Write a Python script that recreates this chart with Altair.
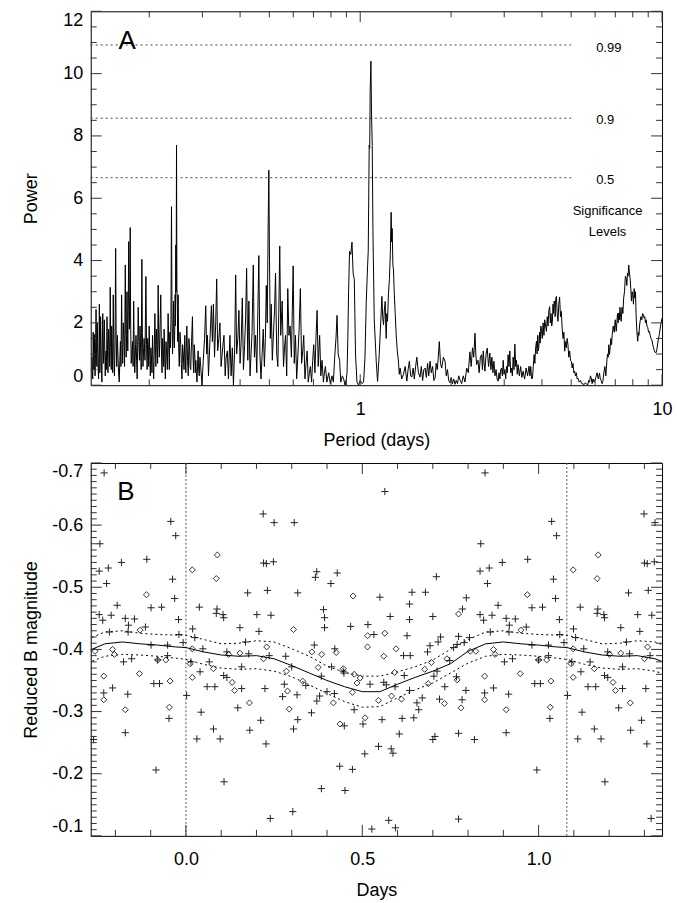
import altair as alt
import pandas as pd

FONT = "Liberation Sans"
W, HA, HB = 573, 375, 374

# ---------------- Panel A: periodogram in three stretches ----------------
period_short = [
    0.1292, 0.1296, 0.1300, 0.1304, 0.1308, 0.1312, 0.1316, 0.1320, 0.1323, 0.1328,
    0.1333, 0.1337, 0.1341, 0.1345, 0.1349, 0.1354, 0.1359, 0.1363, 0.1367, 0.1372,
    0.1376, 0.1380, 0.1384, 0.1389, 0.1394, 0.1398, 0.1403, 0.1407, 0.1411, 0.1416,
    0.1420, 0.1425, 0.1430, 0.1434, 0.1439, 0.1444, 0.1449, 0.1455, 0.1460, 0.1466,
    0.1473, 0.1479, 0.1485, 0.1491, 0.1497, 0.1502, 0.1508, 0.1514, 0.1520, 0.1527,
    0.1534, 0.1541, 0.1548, 0.1554, 0.1561, 0.1568, 0.1575, 0.1583, 0.1591, 0.1598,
    0.1605, 0.1612, 0.1620, 0.1626, 0.1633, 0.1641, 0.1649, 0.1657, 0.1666, 0.1672,
    0.1678, 0.1683, 0.1688, 0.1693, 0.1698, 0.1704, 0.1710, 0.1715, 0.1720, 0.1725,
    0.1730, 0.1736, 0.1743, 0.1751, 0.1760, 0.1768, 0.1776, 0.1783, 0.1791, 0.1800,
    0.1808, 0.1816, 0.1824, 0.1831, 0.1839, 0.1847, 0.1856, 0.1864, 0.1872, 0.1881,
    0.1891, 0.1898, 0.1906, 0.1914, 0.1923, 0.1936, 0.1950, 0.1959, 0.1968, 0.1976,
    0.1984, 0.1991, 0.1999, 0.2008, 0.2017, 0.2025, 0.2034, 0.2042, 0.2051, 0.2060,
    0.2069, 0.2078, 0.2088, 0.2096, 0.2104, 0.2113, 0.2123, 0.2132, 0.2141, 0.2150,
    0.2160, 0.2172, 0.2184, 0.2194, 0.2205, 0.2214, 0.2224, 0.2232, 0.2241, 0.2251,
    0.2262, 0.2273, 0.2284, 0.2297, 0.2310, 0.2320, 0.2331, 0.2340, 0.2350, 0.2360,
    0.2370, 0.2380, 0.2389, 0.2398, 0.2407, 0.2414, 0.2422, 0.2430, 0.2437, 0.2443,
    0.2450, 0.2456, 0.2463, 0.2470, 0.2478, 0.2485, 0.2493, 0.2504, 0.2515, 0.2529,
    0.2543, 0.2555, 0.2567, 0.2580, 0.2593, 0.2608, 0.2623, 0.2633, 0.2644, 0.2654,
    0.2664, 0.2679, 0.2694, 0.2707, 0.2720, 0.2732, 0.2744, 0.2762, 0.2781, 0.2793,
    0.2805, 0.2818, 0.2831, 0.2842, 0.2853, 0.2866, 0.2879, 0.2891, 0.2903, 0.2916,
    0.2929, 0.2945,
]
power_short = [
    0.9, 0.4, 0.2, 1.7, 1.2, 0.5, 1.63, 0.9, 0.3, 1.1,
    2.43, 1.2, 0.6, 2.0, 1.4, 0.6, 0.2, 1.0, 2.6, 0.4,
    0.9, 2.2, 1.5, 0.5, 0.1, 1.2, 2.3, 1.3, 0.7, 1.6,
    2.1, 1.0, 0.3, 0.8, 1.1, 0.5, 2.2, 1.0, 0.4, 1.8,
    1.3, 0.6, 3.14, 1.2, 0.5, 1.9, 1.2, 0.4, 2.9, 1.1,
    0.3, 1.4, 4.39, 1.5, 0.6, 1.6, 1.0, 0.4, 0.1, 0.8,
    1.4, 0.6, 2.9, 1.4, 0.7, 2.0, 1.5, 0.6, 3.86, 1.8,
    0.9, 1.6, 3.0, 1.9, 1.1, 2.4, 4.61, 2.5, 1.8, 3.0,
    5.06, 1.9, 0.7, 1.0, 1.4, 0.6, 2.7, 1.3, 0.4, 1.1,
    1.6, 0.8, 0.2, 1.3, 2.5, 1.4, 0.8, 1.9, 1.2, 0.5,
    4.04, 1.7, 0.6, 1.0, 1.5, 0.8, 3.49, 1.3, 0.5, 1.5,
    1.2, 0.6, 1.9, 1.0, 0.3, 1.2, 0.9, 0.4, 1.6, 0.8,
    0.2, 1.1, 2.3, 1.3, 0.6, 1.8, 1.3, 0.7, 3.21, 1.5,
    0.9, 1.9, 2.9, 1.2, 0.4, 1.5, 1.1, 0.6, 1.8, 0.9,
    0.2, 1.4, 1.0, 0.5, 2.3, 1.3, 0.5, 1.7, 1.2, 2.0,
    5.73, 2.1, 1.0, 1.7, 2.7, 1.6, 1.2, 1.8, 2.9, 1.9,
    4.5, 3.0, 7.71, 3.1, 2.6, 1.4, 2.9, 1.2, 0.6, 1.7,
    1.3, 0.7, 0.2, 1.3, 1.0, 0.5, 1.6, 0.9, 0.4, 1.2,
    1.9, 0.8, 0.3, 1.5, 1.2, 0.6, 0.5, 1.4, 2.2, 1.0,
    0.4, 1.3, 1.0, 0.4, 0.8, 0.4, 0.1, 0.6, 1.1, 0.5,
    0.3, 0.9,
]
period_mid = [
    0.2961, 0.2991, 0.3020, 0.3050, 0.3078, 0.3101, 0.3118, 0.3143, 0.3171,
    0.3213, 0.3238, 0.3263, 0.3291, 0.3321, 0.3346, 0.3371, 0.3402, 0.3429, 0.3461,
    0.3502, 0.3537, 0.3570, 0.3597, 0.3630, 0.3660, 0.3701, 0.3735, 0.3770, 0.3802,
    0.3838, 0.3867, 0.3896, 0.3932, 0.3964, 0.3999, 0.4033, 0.4068, 0.4103, 0.4141,
    0.4173, 0.4204, 0.4242, 0.4277, 0.4315, 0.4348, 0.4382, 0.4423, 0.4461, 0.4502,
    0.4543, 0.4581, 0.4615, 0.4652, 0.4692, 0.4732, 0.4773, 0.4814, 0.4851, 0.4884,
    0.4921, 0.4951, 0.4980, 0.5006, 0.5036, 0.5071, 0.5115, 0.5162, 0.5202, 0.5242,
    0.5290, 0.5334, 0.5373, 0.5413, 0.5454, 0.5514, 0.5570, 0.5613, 0.5656, 0.5708,
    0.5755, 0.5806, 0.5858, 0.5917, 0.5996, 0.6047, 0.6103, 0.6159, 0.6219, 0.6275,
    0.6335, 0.6395, 0.6450, 0.6500, 0.6560, 0.6616, 0.6671, 0.6726, 0.6786, 0.6836,
    0.6901, 0.6960, 0.7015, 0.7079, 0.7134, 0.7198, 0.7258, 0.7339, 0.7406, 0.7476,
    0.7552, 0.7610, 0.7669, 0.7756, 0.7861, 0.7960, 0.8067, 0.8149, 0.8243, 0.8312,
    0.8381, 0.8451, 0.8545, 0.8623, 0.8725, 0.8813, 0.8908, 0.8996, 0.9044, 0.9098,
    0.9152, 0.9220, 0.9304, 0.9392, 0.9472, 0.9560, 0.9648, 0.9758, 0.9875, 1.0000,
    1.0134, 1.0261, 1.0371, 1.0474, 1.0577, 1.0632, 1.0711, 1.0751, 1.0790, 1.0850,
    1.0901, 1.0961, 1.1020, 1.1131, 1.1302, 1.1413,
]
power_mid = [
    0.6, 0.0, 0.8, 1.5, 2.55, 1.0, 1.6, 0.3, 1.2,
    2.55, 1.4, 2.6, 0.9, 2.0, 3.41, 1.1, 1.5, 2.0, 0.6,
    1.2, 1.6, 0.3, 0.9, 1.1, 0.2, 1.6, 0.3, 1.2, 0.0,
    1.2, 3.54, 1.0, 1.5, 2.4, 0.7, 1.4, 2.8, 0.5, 1.3,
    2.2, 3.75, 0.8, 2.7, 0.3, 1.0, 1.7, 3.86, 0.9, 1.6,
    0.4, 2.4, 4.16, 1.0, 0.2, 1.0, 1.8, 0.6, 1.5, 3.2,
    2.0, 4.8, 6.9, 4.0, 1.5, 2.6, 0.8, 1.7, 2.4, 3.6,
    1.0, 0.6, 2.3, 4.47, 1.6, 2.7, 0.6, 1.2, 1.6, 0.3,
    3.1, 1.6, 1.9, 0.9, 3.83, 0.7, 1.6, 0.2, 1.0, 1.8,
    3.1, 0.7, 1.1, 1.6, 0.2, 0.7, 1.1, 0.1, 0.4, 0.6,
    0.1, 0.8, 1.3, 0.4, 1.5, 2.4, 0.6, 1.6, 0.3, 0.8,
    0.1, 0.4, 0.6, 0.1, 0.4, 0.05, 0.3, 0.1, 1.0, 1.5,
    2.24, 1.0, 0.8, 0.1, 0.3, 0.2, 0.0, 0.2, 0.4, 1.5,
    3.0, 4.3, 4.2, 4.59, 3.6, 3.4, 1.0, 0.1, 0.0, 0.15,
    0.05, 0.1, 0.9, 2.7, 3.8, 4.3, 7.71, 7.6, 9.4, 10.4,
    8.7, 7.7, 4.93, 2.1, 0.76, 0.12,
]
period_long = [
    1.1558, 1.168, 1.1799, 1.187, 1.1947, 1.202, 1.2103, 1.215, 1.2195, 1.2255,
    1.2315, 1.240, 1.2499, 1.258, 1.2662, 1.2712, 1.2762, 1.2831, 1.2895, 1.2960,
    1.306, 1.3159, 1.327, 1.3387, 1.347, 1.3556, 1.373, 1.3910, 1.409, 1.4274,
    1.441, 1.4553, 1.469, 1.4825, 1.497, 1.511, 1.526, 1.5403, 1.559, 1.5784,
    1.594, 1.610, 1.625, 1.6408, 1.656, 1.672, 1.687, 1.7031, 1.720, 1.737,
    1.754, 1.7704, 1.785, 1.800, 1.814, 1.8283, 1.845, 1.8624, 1.886, 1.9104,
    1.928, 1.946, 1.964, 1.9830, 2.002, 2.022, 2.041, 2.0614, 2.080, 2.100,
    2.120, 2.1397, 2.168, 2.196, 2.224, 2.2530, 2.281, 2.3088, 2.332, 2.355,
    2.378, 2.4000, 2.4155, 2.4310, 2.455, 2.478, 2.501, 2.5247, 2.541, 2.557,
    2.573, 2.5897, 2.612, 2.6350, 2.662, 2.6881, 2.710, 2.731, 2.752, 2.7731,
    2.796, 2.819, 2.841, 2.8644, 2.883, 2.902, 2.921, 2.9395, 2.958, 2.977,
    2.996, 3.0151, 3.034, 3.053, 3.072, 3.0908, 3.111, 3.131, 3.151, 3.1717,
    3.192, 3.212, 3.233, 3.2533, 3.274, 3.294, 3.314, 3.3349, 3.367, 3.400,
    3.432, 3.4651, 3.505, 3.545, 3.585, 3.6252, 3.649, 3.673, 3.697, 3.7216,
    3.745, 3.7677, 3.790, 3.812, 3.8368, 3.855, 3.874, 3.893, 3.9116, 3.930,
    3.948, 3.966, 3.9846, 4.010, 4.036, 4.062, 4.0872, 4.114, 4.1401, 4.166,
    4.191, 4.217, 4.2425, 4.265, 4.288, 4.310, 4.3330, 4.352, 4.372, 4.391,
    4.4102, 4.4245, 4.439, 4.4671, 4.494, 4.5208, 4.549, 4.5778, 4.608, 4.6393,
    4.669, 4.699, 4.729, 4.7587, 4.788, 4.818, 4.848, 4.8780, 4.910, 4.942,
    4.974, 5.0059, 5.038, 5.070, 5.102, 5.1347, 5.167, 5.199, 5.231, 5.2634,
    5.315, 5.366, 5.418, 5.4688, 5.521, 5.574, 5.627, 5.6794, 5.716, 5.754,
    5.791, 5.8283, 5.866, 5.903, 5.941, 5.9783, 6.035, 6.092, 6.149, 6.2055,
    6.246, 6.286, 6.327, 6.3673, 6.416, 6.465, 6.514, 6.5634, 6.597, 6.630,
    6.663, 6.6958, 6.731, 6.767, 6.803, 6.8387, 6.891, 6.944, 6.997, 7.0503,
    7.085, 7.119, 7.154, 7.1879, 7.222, 7.255, 7.289, 7.3220, 7.369, 7.416,
    7.463, 7.5104, 7.559, 7.6074, 7.645, 7.682, 7.719, 7.7558, 7.797, 7.8389,
    7.879, 7.919, 7.959, 7.9991, 8.041, 8.082, 8.124, 8.1655, 8.201, 8.236,
    8.272, 8.3072, 8.345, 8.383, 8.421, 8.4584, 8.513, 8.568, 8.623, 8.6778,
    8.723, 8.768, 8.813, 8.8573, 8.912, 8.967, 9.022, 9.0766, 9.136, 9.195,
    9.254, 9.3133, 9.374, 9.435, 9.496, 9.5571, 9.616, 9.675, 9.734, 9.7938,
    9.85, 9.90, 10.0,
]
power_long = [
    0.98, 1.9, 2.85, 2.2, 1.94, 2.4, 2.69, 1.9, 1.5, 2.3,
    2.05, 2.9, 3.43, 4.2, 5.55, 4.6, 5.03, 3.86, 3.7, 3.0,
    2.3, 1.62, 1.1, 0.77, 0.35, 0.55, 0.2, 0.35, 0.6, 0.13,
    0.5, 0.77, 0.3, 0.26, 0.55, 0.2, 0.6, 0.9, 0.4, 0.26,
    0.6, 0.15, 0.5, 0.55, 0.25, 0.7, 0.3, 0.77, 0.4, 0.6,
    0.15, 0.23, 0.7, 0.5, 0.9, 1.40, 0.7, 0.55, 0.9, 0.77,
    0.3, 0.5, 0.15, 0.08, 0.25, 0.05, 0.2, 0.03, 0.15, 0.05,
    0.3, 0.18, 0.05, 0.3, 0.1, 0.55, 0.4, 1.07, 0.6, 1.2,
    0.9, 1.67, 1.0, 0.66, 0.8, 0.4, 0.9, 0.98, 0.5, 1.1,
    0.7, 0.45, 1.0, 1.19, 0.6, 1.03, 0.5, 0.9, 0.4, 0.77,
    0.3, 0.5, 0.2, 0.13, 0.4, 0.2, 0.5, 0.55, 0.3, 0.8,
    0.35, 0.5, 0.2, 0.6, 0.4, 0.98, 0.6, 1.1, 0.4, 0.55,
    0.3, 0.9, 0.5, 1.32, 0.6, 0.8, 0.35, 0.66, 0.3, 0.6,
    0.25, 0.45, 0.2, 0.55, 0.3, 0.61, 0.3, 0.6, 0.2, 0.23,
    0.6, 0.98, 0.7, 1.2, 1.41, 1.0, 1.6, 1.1, 1.3, 1.7,
    1.35, 1.9, 1.8, 1.5, 2.0, 1.6, 2.1, 1.9, 1.73, 2.2,
    1.9, 2.4, 2.52, 2.0, 2.3, 1.9, 2.05, 2.6, 2.3, 2.7,
    2.64, 2.2, 2.75, 2.85, 2.3, 2.05, 2.6, 2.83, 2.2, 2.37,
    1.8, 1.5, 1.7, 1.09, 1.4, 1.2, 1.5, 1.3, 0.9, 1.1,
    0.8, 0.77, 0.55, 0.7, 0.4, 0.45, 0.3, 0.4, 0.2, 0.23,
    0.1, 0.15, 0.05, 0.04, 0.02, 0.08, 0.03, 0.02, 0.15, 0.1,
    0.3, 0.23, 0.05, 0.2, 0.1, 0.12, 0.25, 0.4, 0.2, 0.39,
    0.2, 0.15, 0.05, 0.12, 0.4, 0.6, 0.3, 0.77, 1.0, 0.9,
    1.3, 0.98, 1.2, 1.5, 1.3, 1.62, 1.9, 1.7, 2.1, 1.73,
    2.0, 2.3, 2.0, 2.32, 2.1, 2.5, 2.2, 2.05, 2.5, 2.3,
    2.8, 3.0, 3.5, 3.43, 3.2, 3.6, 3.5, 3.86, 3.6, 3.43,
    3.1, 2.7, 3.0, 2.9, 2.6, 3.1, 2.8, 3.0, 2.3, 1.9,
    1.6, 1.41, 1.7, 1.6, 1.9, 2.05, 2.2, 2.1, 2.3, 2.26,
    2.15, 2.2, 2.0, 2.1, 1.9, 1.85, 1.7, 1.73, 1.6, 1.5,
    1.45, 1.3, 1.2, 1.1, 1.05, 1.04, 1.15, 1.35, 1.5, 1.62,
    1.8, 1.95, 2.15,
]

sig_power = [10.92, 8.57, 6.66]
sig_label = ["0.99", "0.9", "0.5"]
sig_label_power = [10.82, 8.51, 6.59]
sig_from, sig_to = 0.128, 5.0
note_text = ["Significance", "Levels"]
note_power = [5.60, 4.93]

# ---------------- Panel B: folded light curve (one cycle) ----------------
FOLD = 1.08
plus_phase = [
    0.002, 0.014, 0.019, 0.025, 0.031, 0.038, 0.040, 0.043, 0.048, 0.060,
    0.066, 0.078, 0.082, 0.086, 0.088, 0.097, 0.105, 0.107, 0.107, 0.108,
    0.116, 0.116, 0.147, 0.153, 0.158, 0.158, 0.169, 0.175, 0.178, 0.181,
    0.201, 0.207, 0.212, 0.219, 0.220, 0.224, 0.227, 0.228, 0.231, 0.236,
    0.239, 0.241, 0.248, 0.250, 0.274, 0.279, 0.283, 0.300, 0.303, 0.305,
    0.307, 0.315, 0.317, 0.317, 0.340, 0.356, 0.364, 0.367, 0.371, 0.371,
    0.379, 0.384, 0.384, 0.390, 0.393, 0.393, 0.400, 0.411, 0.413, 0.421,
    0.422, 0.429, 0.436, 0.446, 0.448, 0.449, 0.451, 0.467, 0.472, 0.477,
    0.502, 0.507, 0.516, 0.522, 0.527, 0.533, 0.546, 0.550, 0.556, 0.561,
    0.564, 0.568, 0.575, 0.579, 0.582, 0.587, 0.593, 0.594, 0.605, 0.613,
    0.617, 0.619, 0.627, 0.634, 0.634, 0.634, 0.636, 0.641, 0.646, 0.655,
    0.660, 0.670, 0.679, 0.685, 0.692, 0.700, 0.700, 0.703, 0.706, 0.710,
    0.712, 0.715, 0.719, 0.722, 0.734, 0.748, 0.759, 0.767, 0.769, 0.773,
    0.773, 0.773, 0.783, 0.784, 0.789, 0.794, 0.795, 0.804, 0.818, 0.834,
    0.834, 0.836, 0.844, 0.847, 0.848, 0.855, 0.860, 0.863, 0.868, 0.872,
    0.885, 0.897, 0.903, 0.908, 0.908, 0.915, 0.916, 0.917, 0.926, 0.934,
    0.965, 0.969, 0.981, 0.981, 0.989, 0.995, 1.000, 1.005, 1.011, 1.028,
    1.028, 1.032, 1.037, 1.042, 1.048, 1.051, 1.059, 1.060, 1.072,
]
plus_mag = [
    -0.326, -0.380, -0.433, -0.419, -0.256, -0.468, -0.364, -0.299, -0.401, -0.340,
    -0.380, -0.272, -0.340, -0.458, -0.465, -0.256, -0.456, -0.451, -0.358, -0.187,
    -0.355, -0.396, -0.306, -0.435, -0.372, -0.337, -0.412, -0.491, -0.393, -0.270,
    -0.456, -0.429, -0.286, -0.618, -0.539, -0.337, -0.248, -0.538, -0.495, -0.390,
    -0.128, -0.455, -0.541, -0.604, -0.324, -0.344, -0.389, -0.372, -0.139, -0.272,
    -0.604, -0.327, -0.491, -0.287, -0.342, -0.298, -0.407, -0.516, -0.525, -0.317,
    -0.325, -0.357, -0.176, -0.464, -0.451, -0.435, -0.332, -0.506, -0.372, -0.329,
    -0.401, -0.523, -0.212, -0.365, -0.362, -0.277, -0.173, -0.437, -0.207, -0.303,
    -0.280, -0.232, -0.440, -0.344, -0.111, -0.424, -0.244, -0.484, -0.287, -0.347,
    -0.654, -0.343, -0.125, -0.453, -0.240, -0.233, -0.340, -0.113, -0.264, -0.289,
    -0.390, -0.358, -0.422, -0.448, -0.473, -0.334, -0.390, -0.492, -0.290, -0.314,
    -0.303, -0.322, -0.492, -0.396, -0.406, -0.453, -0.255, -0.357, -0.260, -0.517,
    -0.365, -0.412, -0.320, -0.420, -0.340, -0.382, -0.403, -0.356, -0.408, -0.421,
    -0.265, -0.127, -0.319, -0.465, -0.411, -0.334, -0.483, -0.419, -0.255, -0.526,
    -0.456, -0.570, -0.447, -0.330, -0.684, -0.506, -0.531, -0.428, -0.455, -0.338,
    -0.471, -0.540, -0.380, -0.450, -0.266, -0.328, -0.428, -0.439, -0.385, -0.449,
    -0.436, -0.545, -0.467, -0.407, -0.345, -0.206, -0.383, -0.345, -0.468, -0.407,
    -0.390, -0.289, -0.606, -0.513, -0.482, -0.583, -0.448, -0.424, -0.411,
]
dia_phase = [
    0.012, 0.018, 0.018, 0.018, 0.078, 0.086, 0.089, 0.121, 0.131, 0.138,
    0.153, 0.180, 0.220, 0.229, 0.285, 0.288, 0.293, 0.305, 0.331, 0.357,
    0.375, 0.385, 0.418, 0.426, 0.437, 0.446, 0.472, 0.474, 0.477, 0.485,
    0.494, 0.508, 0.515, 0.515, 0.546, 0.561, 0.564, 0.583, 0.592, 0.596,
    0.611, 0.677, 0.687, 0.696, 0.733, 0.740, 0.769, 0.773, 0.780, 0.806,
    0.822, 0.847, 0.847, 0.872, 0.877, 0.908, 0.948, 0.950, 0.968, 1.000,
    1.023, 1.033, 1.035,
]
dia_mag = [
    -0.377, -0.528, -0.401, -0.355, -0.369, -0.514, -0.552, -0.392, -0.347, -0.334,
    -0.394, -0.314, -0.385, -0.404, -0.365, -0.333, -0.304, -0.432, -0.349, -0.396,
    -0.371, -0.392, -0.314, -0.395, -0.280, -0.369, -0.331, -0.486, -0.360, -0.346,
    -0.354, -0.290, -0.422, -0.404, -0.318, -0.389, -0.426, -0.325, -0.363, -0.401,
    -0.320, -0.368, -0.345, -0.379, -0.313, -0.385, -0.351, -0.457, -0.306, -0.397,
    -0.397, -0.357, -0.319, -0.400, -0.392, -0.303, -0.361, -0.431, -0.488, -0.383,
    -0.383, -0.307, -0.349,
]
fit_phase = [0.00, 0.05, 0.10, 0.15, 0.20, 0.25, 0.30, 0.35, 0.40, 0.45, 0.50,
             0.55, 0.60, 0.65, 0.70, 0.75, 0.80, 0.85, 0.90, 0.95, 1.00, 1.05]
fit_mag = [-0.403, -0.396, -0.391, -0.389, -0.390, -0.385, -0.374, -0.362, -0.350, -0.340, -0.332,
           -0.332, -0.344, -0.355, -0.365, -0.377, -0.397, -0.409, -0.412, -0.409, -0.407, -0.404]
fit_hi = [-0.423, -0.416, -0.409, -0.410, -0.414, -0.412, -0.401, -0.389, -0.373, -0.363, -0.357,
          -0.357, -0.364, -0.372, -0.383, -0.400, -0.416, -0.428, -0.430, -0.426, -0.424, -0.423]
fit_lo = [-0.384, -0.376, -0.370, -0.368, -0.369, -0.365, -0.356, -0.343, -0.329, -0.316, -0.307,
          -0.308, -0.322, -0.335, -0.346, -0.362, -0.378, -0.389, -0.392, -0.391, -0.389, -0.386]


def fold(xs, cols, lo, hi):
    rows = []
    for shift in (-FOLD, 0.0, FOLD):
        for i, x in enumerate(xs):
            xx = round(x + shift, 4)
            if lo <= xx <= hi:
                row = {"phase": xx}
                for k, v in cols.items():
                    row[k] = v[i]
                rows.append(row)
    return pd.DataFrame(rows)


df_pg = pd.DataFrame({
    "period": period_short + period_mid + period_long,
    "power": power_short + power_mid + power_long,
})
df_sig = pd.DataFrame({"period": [sig_from] * 3, "period_end": [sig_to] * 3, "power": sig_power})
df_siglab = pd.DataFrame({"period": [6.05] * 3, "power": sig_label_power, "label": sig_label})
df_note = pd.DataFrame({"period": [6.6] * 2, "power": note_power, "label": note_text})
df_A = pd.DataFrame({"period": [0.169], "power": [11.05], "label": ["A"]})

df_plus = fold(plus_phase, {"mag": plus_mag}, -0.27, 1.35)
df_dia = fold(dia_phase, {"mag": dia_mag}, -0.27, 1.35)
df_fit = fold(fit_phase, {"mag": fit_mag, "hi": fit_hi, "lo": fit_lo}, -0.45, 1.55)
df_vl = pd.DataFrame({"phase": [0.0, FOLD]})
df_B = pd.DataFrame({"phase": [-0.170], "mag": [-0.653], "label": ["B"]})

# ---------------- scales / axes ----------------
scA_x = alt.Scale(type="log", domain=[0.128, 10], nice=False)
axA_x = alt.Axis(values=[1, 10], format="~g", ticks=False, domain=False, grid=False,
                 labelPadding=15, labelFlush=False, titleY=55, titleBaseline="middle")
scA_y = alt.Scale(domain=[0, 12], nice=False, zero=False)
axA_y = alt.Axis(values=[0, 2, 4, 6, 8, 10, 12], format="d", ticks=False, domain=False,
                 grid=False, labelPadding=8, labelFlush=True, titleX=-59, titleBaseline="middle")
scB_x = alt.Scale(domain=[-0.27, 1.35], nice=False, zero=False)
axB_x = alt.Axis(values=[0.0, 0.5, 1.0], format=".1f", ticks=False, domain=False, grid=False,
                 labelPadding=15, labelFlush=False, titleY=55, titleBaseline="middle")
scB_y = alt.Scale(domain=[-0.7, -0.1], nice=False, zero=False, reverse=True)
axB_y = alt.Axis(values=[-0.7, -0.6, -0.5, -0.4, -0.3, -0.2, -0.1],
                 labelExpr="datum.value < 0 ? '-' + format(-datum.value, '.1f') : format(datum.value, '.1f')",
                 ticks=False, domain=False, grid=False, labelPadding=8, labelFlush=True,
                 titleX=-59, titleBaseline="middle")

xA = alt.X("period:Q", scale=scA_x, axis=axA_x, title="Period (days)")
yA = alt.Y("power:Q", scale=scA_y, axis=axA_y, title="Power")
xB = alt.X("phase:Q", scale=scB_x, axis=axB_x, title="Days")
yB = alt.Y("mag:Q", scale=scB_y, axis=axB_y, title="Reduced B magnitude")
yB_hi = alt.Y("hi:Q", scale=scB_y, axis=axB_y, title="Reduced B magnitude")
yB_lo = alt.Y("lo:Q", scale=scB_y, axis=axB_y, title="Reduced B magnitude")

TICK_COLOR = "#333"


def tick_layers(xenc, yenc, xfield, yfield, xmaj, xmin, ymaj, ymin, w, h):
    out = []
    for vals, ln in ((ymaj, 11), (ymin, 6)):
        d = pd.DataFrame({yfield: vals})
        out.append(alt.Chart(d).mark_rule(color=TICK_COLOR, strokeWidth=1).encode(
            y=yenc, x=alt.value(0), x2=alt.value(ln)))
        out.append(alt.Chart(d).mark_rule(color=TICK_COLOR, strokeWidth=1).encode(
            y=yenc, x=alt.value(w), x2=alt.value(w - ln)))
    for vals, ln in ((xmaj, 11), (xmin, 6)):
        d = pd.DataFrame({xfield: vals})
        out.append(alt.Chart(d).mark_rule(color=TICK_COLOR, strokeWidth=1).encode(
            x=xenc, y=alt.value(h), y2=alt.value(h - ln)))
        out.append(alt.Chart(d).mark_rule(color=TICK_COLOR, strokeWidth=1).encode(
            x=xenc, y=alt.value(0), y2=alt.value(ln)))
    return out


A_x_major = [1, 10]
A_x_minor = [0.2, 0.3, 0.4, 0.5, 0.6, 0.7, 0.8, 0.9, 2, 3, 4, 5, 6, 7, 8, 9]
A_y_major = [0, 2, 4, 6, 8, 10, 12]
A_y_minor = [v / 2 for v in range(1, 24) if v % 4 != 0]
B_x_major = [0.0, 0.5, 1.0]
B_x_minor = [-0.2, -0.1, 0.1, 0.2, 0.3, 0.4, 0.6, 0.7, 0.8, 0.9, 1.1, 1.2, 1.3]
B_y_major = [-0.7, -0.6, -0.5, -0.4, -0.3, -0.2, -0.1]
B_y_minor = [round(-0.7 + i * 0.01, 2) for i in range(1, 60) if i % 10 != 0]

# ---------------- Panel A layers ----------------
sig_rules = alt.Chart(df_sig).mark_rule(color="#444", strokeDash=[2, 3], strokeWidth=1).encode(
    x=xA, x2=alt.X2("period_end:Q"), y=yA)
pg_line = alt.Chart(df_pg).mark_line(color="black", strokeWidth=1, clip=True).encode(x=xA, y=yA)
sig_text = alt.Chart(df_siglab).mark_text(align="left", baseline="middle", fontSize=13, color="black").encode(
    x=xA, y=yA, text="label:N")
note_t = alt.Chart(df_note).mark_text(align="center", baseline="middle", fontSize=13, color="black").encode(
    x=xA, y=yA, text="label:N")
a_text = alt.Chart(df_A).mark_text(align="center", baseline="middle", fontSize=26, color="black").encode(
    x=xA, y=yA, text="label:N")

panelA = alt.layer(
    sig_rules, pg_line, sig_text, note_t, a_text,
    *tick_layers(xA, yA, "period", "power", A_x_major, A_x_minor, A_y_major, A_y_minor, W, HA)
).properties(width=W, height=HA)

# ---------------- Panel B layers ----------------
PLUS = "M-1,0L1,0M0,-1L0,1"
vlines = alt.Chart(df_vl).mark_rule(color="#555", strokeDash=[2, 2], strokeWidth=1).encode(x=xB)
plus_pts = alt.Chart(df_plus).mark_point(shape=PLUS, size=52, filled=False, color="#222",
                                         strokeWidth=1, opacity=1).encode(x=xB, y=yB)
dia_pts = alt.Chart(df_dia).mark_point(shape="diamond", size=36, filled=False, color="black",
                                       strokeWidth=0.8, opacity=1).encode(x=xB, y=yB)
fit_line = alt.Chart(df_fit).mark_line(color="black", strokeWidth=1, clip=True).encode(x=xB, y=yB)
hi_line = alt.Chart(df_fit).mark_line(color="black", strokeWidth=1, strokeDash=[2, 3], clip=True).encode(
    x=xB, y=yB_hi)
lo_line = alt.Chart(df_fit).mark_line(color="black", strokeWidth=1, strokeDash=[2, 3], clip=True).encode(
    x=xB, y=yB_lo)
b_text = alt.Chart(df_B).mark_text(align="center", baseline="middle", fontSize=26, color="black").encode(
    x=xB, y=yB, text="label:N")

panelB = alt.layer(
    vlines, plus_pts, dia_pts, fit_line, hi_line, lo_line, b_text,
    *tick_layers(xB, yB, "phase", "mag", B_x_major, B_x_minor, B_y_major, B_y_minor, W, HB)
).properties(width=W, height=HB)

chart = alt.vconcat(panelA, panelB, spacing=12).properties(
    padding={"left": 22, "top": 9, "right": 4, "bottom": 4}
).configure_view(
    stroke="black", strokeWidth=1
).configure_axis(
    labelFont=FONT, titleFont=FONT, labelFontSize=18, titleFontSize=18,
    titleFontWeight="normal", labelColor="black", titleColor="black"
).configure_text(font=FONT)

chart.save("out.html", embed_options={"renderer": "svg", "actions": False})
